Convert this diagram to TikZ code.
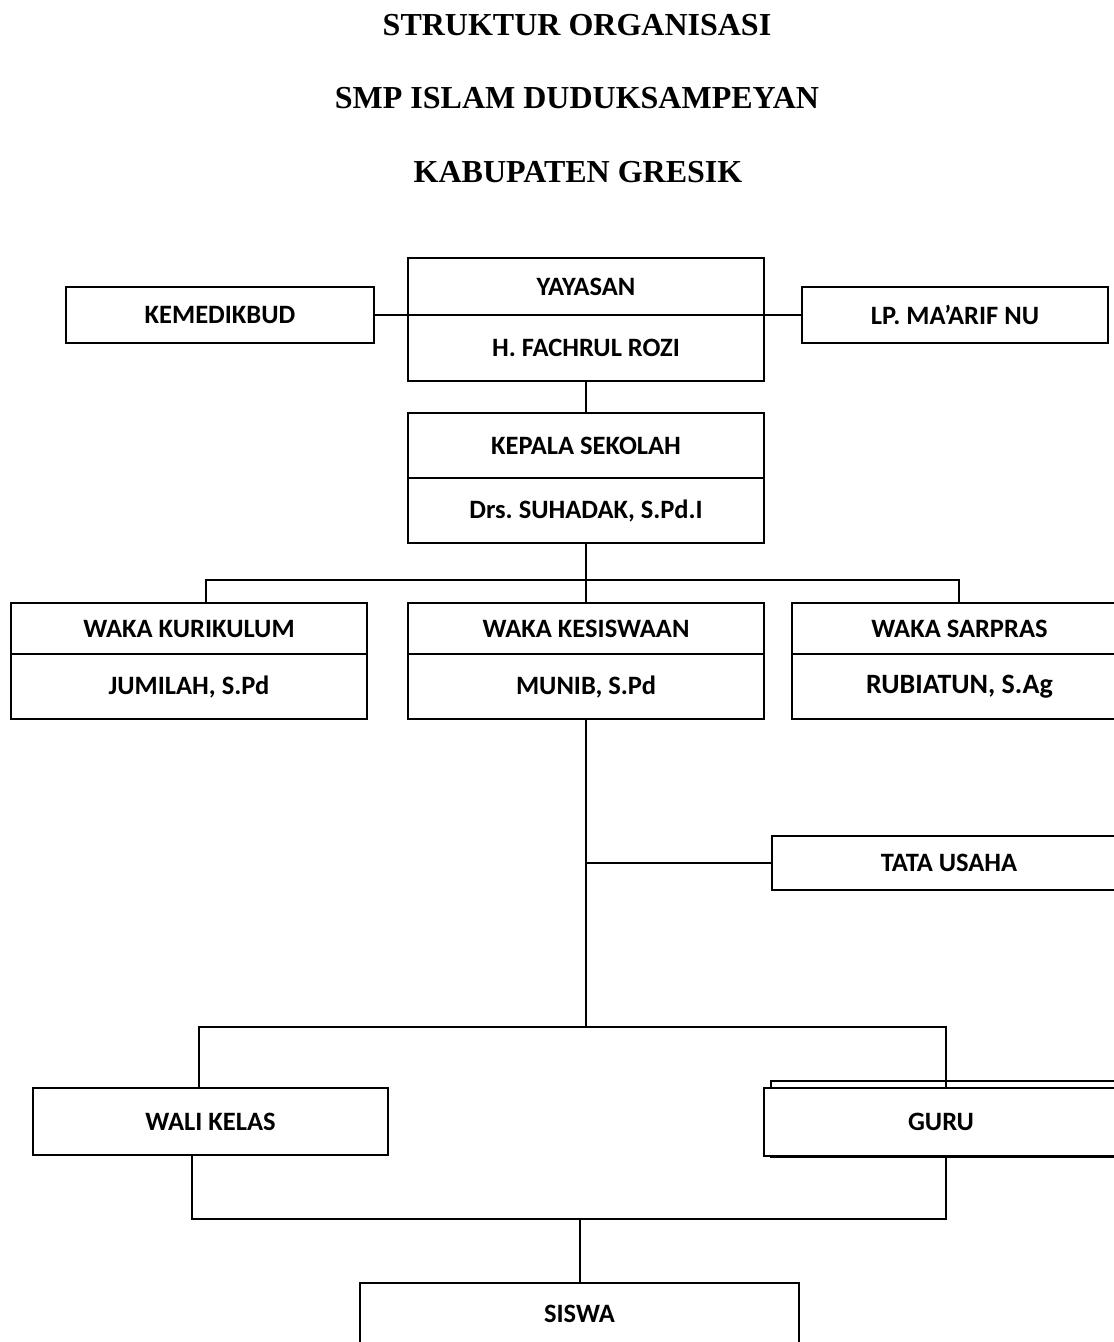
\documentclass[tikz,border=0pt]{standalone}
\usepackage{fontspec}
\setmainfont{Liberation Serif}
\newfontfamily\kotakfont{Carlito}
\frenchspacing

\tikzset{
  kotak/.style={draw, line width=2.2pt, anchor=north west, inner sep=0pt, outer sep=0pt,
    font=\kotakfont\bfseries\fontsize{26.5}{30}\selectfont},
  judul/.style={anchor=base, font=\bfseries\fontsize{32}{38}\selectfont},
  garis/.style={line width=2pt},
}

\begin{document}
\begin{tikzpicture}[x=1pt,y=-1pt]
  \useasboundingbox (0,0) rectangle (1114,1342);
  \clip (0,0) rectangle (1114,1342);

  \node[judul] (judul1) at (577,35) {STRUKTUR ORGANISASI};
  \node[judul] (judul2) at (577,108) {SMP ISLAM DUDUKSAMPEYAN};
  \node[judul] (judul3) at (578,182) {KABUPATEN GRESIK};

  \begin{scope}[every node/.style=kotak]
    \node[minimum width=308, minimum height=56] (kemdikbud) at (66,287) {KEMEDIKBUD};
    \node[minimum width=356, minimum height=57] (yayasan) at (408,258) {YAYASAN};
    \node[minimum width=356, minimum height=66] (fachrul) at (408,315) {H. FACHRUL ROZI};
    \node[minimum width=306, minimum height=56] (lpmaarif) at (802,287) {LP. MA’ARIF NU};

    \node[minimum width=356, minimum height=65] (kepala) at (408,413) {KEPALA SEKOLAH};
    \node[minimum width=356, minimum height=65] (suhadak) at (408,478) {Drs. SUHADAK, S.Pd.I};

    \node[minimum width=356, minimum height=51] (kurikulum) at (11,603) {WAKA KURIKULUM};
    \node[minimum width=356, minimum height=65] (jumilah) at (11,654) {JUMILAH, S.Pd};
    \node[minimum width=356, minimum height=51] (kesiswaan) at (408,603) {WAKA KESISWAAN};
    \node[minimum width=356, minimum height=65] (munib) at (408,654) {MUNIB, S.Pd};
    \node[minimum width=335, minimum height=51] (sarpras) at (792,603) {WAKA SARPRAS};
    \node[minimum width=335, minimum height=65, font=\kotakfont\bfseries\fontsize{28}{32}\selectfont] (rubiatun) at (792,654) {RUBIATUN, S.Ag};

    \node[minimum width=354, minimum height=54] (tatausaha) at (772,836) {TATA USAHA};

    \node[minimum width=355, minimum height=67] (wali) at (33,1088) {WALI KELAS};
    \draw[line width=2.2pt] (771,1081) rectangle (1125,1157);
    \node[minimum width=354, minimum height=68, fill=white] (guru) at (764,1088) {GURU};

    \node[minimum width=439, text height=39, text depth=61] (siswa) at (360,1283) {SISWA};
  \end{scope}

  \coordinate (kiri) at (206,580);
  \coordinate (kanan) at (959,580);
  \coordinate (atas kiri) at (199,1027);
  \coordinate (atas kanan) at (946,1027);
  \coordinate (bawah kiri) at (192,1219);
  \coordinate (bawah kanan) at (946,1219);

  \begin{scope}[garis]
    \draw (kemdikbud.east) -- (lpmaarif.west);
    \draw (fachrul.south) -- (kepala.north);
    \draw (suhadak.south) -- (kesiswaan.north);
    \draw (kurikulum.north -| kiri) -- (kiri) -- (kanan) -- (sarpras.north -| kanan);
    \draw (munib.south) -- (munib.south |- atas kiri);
    \draw (munib.south |- tatausaha.west) -- (tatausaha.west);
    \draw (wali.north -| atas kiri) -- (atas kiri) -- (atas kanan) -- (guru.north -| atas kanan);
    \draw (wali.south -| bawah kiri) -- (bawah kiri) -- (bawah kanan) -- (guru.south -| bawah kanan);
    \draw (siswa.north) -- (siswa.north |- bawah kiri);
  \end{scope}
\end{tikzpicture}
\end{document}
